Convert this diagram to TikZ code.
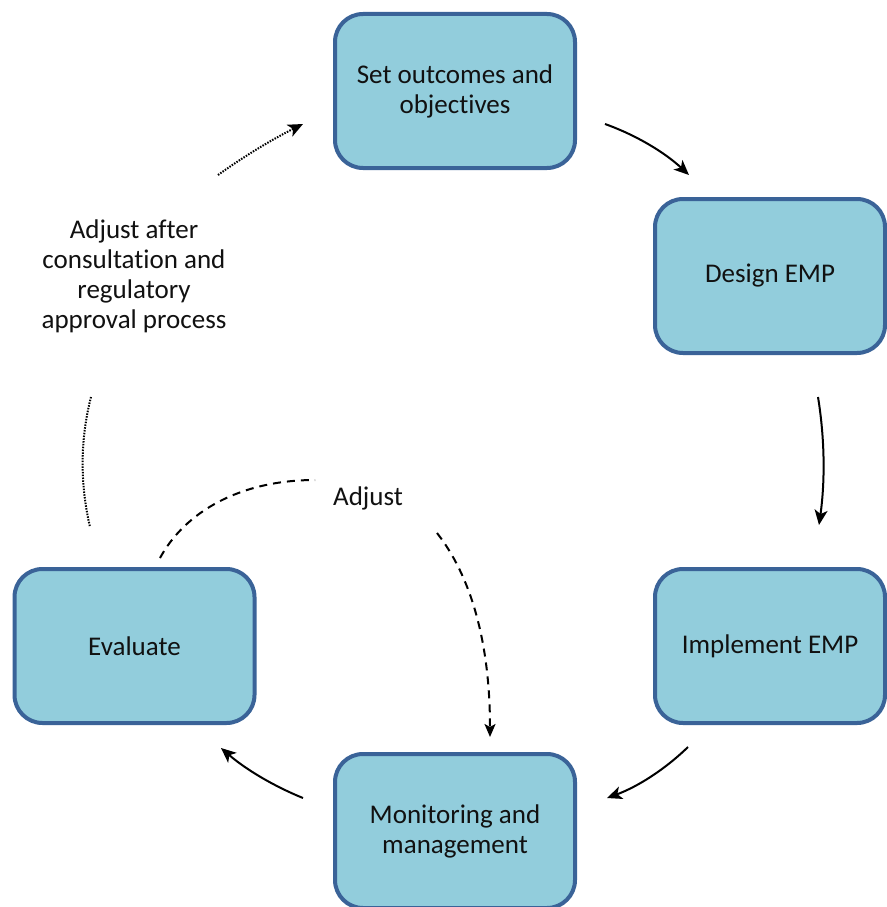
\documentclass[tikz,border=0pt]{standalone}
\usepackage{fontspec}
\setmainfont{Carlito}[Ligatures={NoCommon}]
\usetikzlibrary{arrows.meta}
\definecolor{boxfill}{HTML}{92CDDC}
\definecolor{boxline}{HTML}{3A6398}
\definecolor{txt}{HTML}{111111}
\begin{document}
\begin{tikzpicture}[x=1pt,y=-1pt,
  stage/.style={draw=boxline, fill=boxfill, line width=4pt, rounded corners=28pt,
    minimum width=240pt, minimum height=154pt, align=center, text=txt,
    font=\fontsize{27}{30}\selectfont, inner sep=0pt},
  lbl/.style={align=center, text=txt, font=\fontsize{27}{30}\selectfont, inner sep=0pt},
  flow/.style={line width=2pt, -{Stealth[length=15pt,width=13pt,inset=4pt]}},
  dotline/.style={line width=2pt, dash pattern=on 1.5pt off 1.3pt},
  dashline/.style={line width=2pt, dash pattern=on 8pt off 6pt}
]
\useasboundingbox (0,0) rectangle (886,907);
\fill[white] (0,0) rectangle (886,907);

\node[stage] (set) at (455,91) {Set outcomes and\\objectives};
\node[stage, minimum width=230pt] (design) at (770,276) {Design EMP};
\node[stage, minimum width=230pt] (impl) at (770,646) {Implement EMP};
\node[stage] (mon) at (455,831) {Monitoring and\\management};
\node[stage] (eval) at (134.5,646) {Evaluate};

\node[lbl] (adjnote) at (134,276) {Adjust after\\consultation and\\regulatory\\approval process};
\node[lbl] (adj) at (368,498) {Adjust};

% connector end points
\coordinate (s1) at (605,124);  \coordinate (e1) at (689,175);
\coordinate (s2) at (818,397);  \coordinate (e2) at (819,525);
\coordinate (s3) at (688,747);  \coordinate (e3) at (607,798);
\coordinate (s4) at (303,798);  \coordinate (e4) at (221,748);
\coordinate (s5) at (91,397);   \coordinate (e5) at (90,527);
\coordinate (s6) at (218,175);  \coordinate (e6) at (303,124);
\coordinate (s7) at (160,558);  \coordinate (e7) at (315,480);
\coordinate (s8) at (437,533);  \coordinate (e8) at (490,737);

\draw[flow] (s1) .. controls (636.5,135.3) and (664.5,152.3) .. (e1);
\draw[flow] (s2) .. controls (825,440) and (825,482) .. (e2);
\draw[flow] (s3) .. controls (664.6,769.7) and (637.6,786.7) .. (e3);
\draw[flow] (s4) .. controls (273,785.8) and (245.6,769.2) .. (e4);

\draw[dotline] (s5) .. controls (80,440) and (80,484) .. (e5);
\draw[dotline, -{Stealth[length=15pt,width=13pt,inset=4pt]}] (s6) .. controls (244.9,155.7) and (273.3,138.7) .. (e6);

\draw[dashline] (s7) .. controls (185,512) and (240,480) .. (e7);
\draw[dashline, -{Stealth[length=13pt,width=11pt,inset=3pt]}] (s8) .. controls (470,575) and (490,640) .. (e8);
\end{tikzpicture}
\end{document}
